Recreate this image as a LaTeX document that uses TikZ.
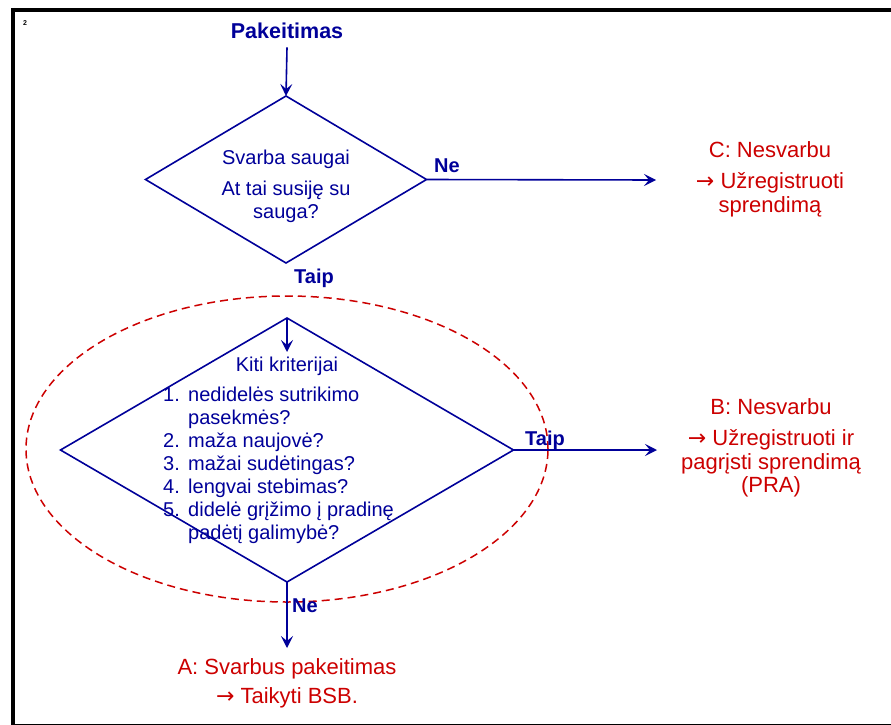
\documentclass[tikz,border=0pt]{standalone}
\usepackage{fontspec}
\setmainfont{Liberation Sans}
\newfontfamily\arrowfont{DejaVu Sans}
\usetikzlibrary{shapes.geometric,arrows.meta}
\definecolor{navy}{RGB}{0,0,153}
\definecolor{darkred}{RGB}{204,0,0}
\newcommand{\rarr}{{\arrowfont →}}
\begin{document}
\begin{tikzpicture}[x=1pt,y=-1pt,
  dec/.style={diamond,draw=navy,line width=1.6pt,inner sep=0pt,outer sep=0pt},
  flow/.style={draw=navy,line width=1.6pt,-{Stealth[length=12pt,width=12pt,inset=5pt]}},
  lbl/.style={text=navy,font=\fontsize{20}{23}\selectfont\bfseries,inner sep=0pt,anchor=base},
  qtext/.style={text=navy,font=\fontsize{20}{23}\selectfont,inner sep=0pt,anchor=base},
  outtext/.style={text=darkred,font=\fontsize{22}{23.5}\selectfont,inner sep=0pt,anchor=base},
  zonestyle/.style={ellipse,draw=darkred,line width=1.5pt,dash pattern=on 8pt off 5pt,inner sep=0pt,outer sep=0pt}]
\useasboundingbox (0,0) rectangle (891,725);
% frame
\draw[line width=4pt] (11,10) -- (891,10);
\draw[line width=4pt] (13,8) -- (13,725);
\draw[line width=1pt] (13,724) -- (891,724);
\node[font=\fontsize{7}{8}\selectfont\bfseries,inner sep=0pt] (pg) at (25,23) {2};
% zone
\node[zonestyle,minimum width=522pt,minimum height=306pt] (zone) at (287,449) {};
% diamonds
\node[dec,minimum width=281pt,minimum height=167pt] (d1) at (286,179.5) {};
\node[dec,minimum width=453pt,minimum height=264pt] (d2) at (287,450) {};
% texts
\node[lbl,font=\fontsize{21.5}{24}\selectfont\bfseries] (start) at (287,39) {Pakeitimas};
\node[qtext] (q1) at (286,164) {\begin{tabular}[t]{@{}c@{}}Svarba saugai\\[8pt]At tai susiję su\\sauga?\end{tabular}};
\node[qtext] (q2t) at (287,371) {Kiti kriterijai};
\node[qtext,anchor=base west] (q2l) at (163,401) {\begin{tabular}[t]{@{}p{25pt}@{}l@{}}1.&nedidelės sutrikimo\\&pasekmės?\\2.&maža naujovė?\\3.&mažai sudėtingas?\\4.&lengvai stebimas?\\5.&didelė grįžimo į pradinę\\&padėtį galimybė?\end{tabular}};
\node[outtext] (outC) at (770,157) {\begin{tabular}[t]{@{}c@{}}C: Nesvarbu\\[8pt]\rarr{} Užregistruoti\\sprendimą\end{tabular}};
\node[outtext] (outB) at (771,414) {\begin{tabular}[t]{@{}c@{}}B: Nesvarbu\\[8pt]\rarr{} Užregistruoti ir\\pagrįsti sprendimą\\(PRA)\end{tabular}};
\node[outtext] (outA) at (287,674) {\begin{tabular}[t]{@{}c@{}}A: Svarbus pakeitimas\\[6pt]\rarr{} Taikyti BSB.\end{tabular}};
% labels
\node[lbl] (ne1) at (447,172) {Ne};
\node[lbl] (taip1) at (314,283) {Taip};
\node[lbl] (taip2) at (545,445) {Taip};
\node[lbl] (ne2) at (305,612) {Ne};
% connector ends
\coordinate (cin) at (656,180);
\coordinate (bin) at (657,450);
\coordinate (kin) at (287,352);
\coordinate (ain) at (287,648);
% connectors
\draw[flow] ([yshift=-8pt]start.south) -- (d1.north);
\draw[flow] (d1.east) -- (cin);
\draw[flow] (d2.north) -- (kin);
\draw[flow] (d2.east) -- (bin);
\draw[flow] (d2.south) -- (ain);
\end{tikzpicture}
\end{document}
